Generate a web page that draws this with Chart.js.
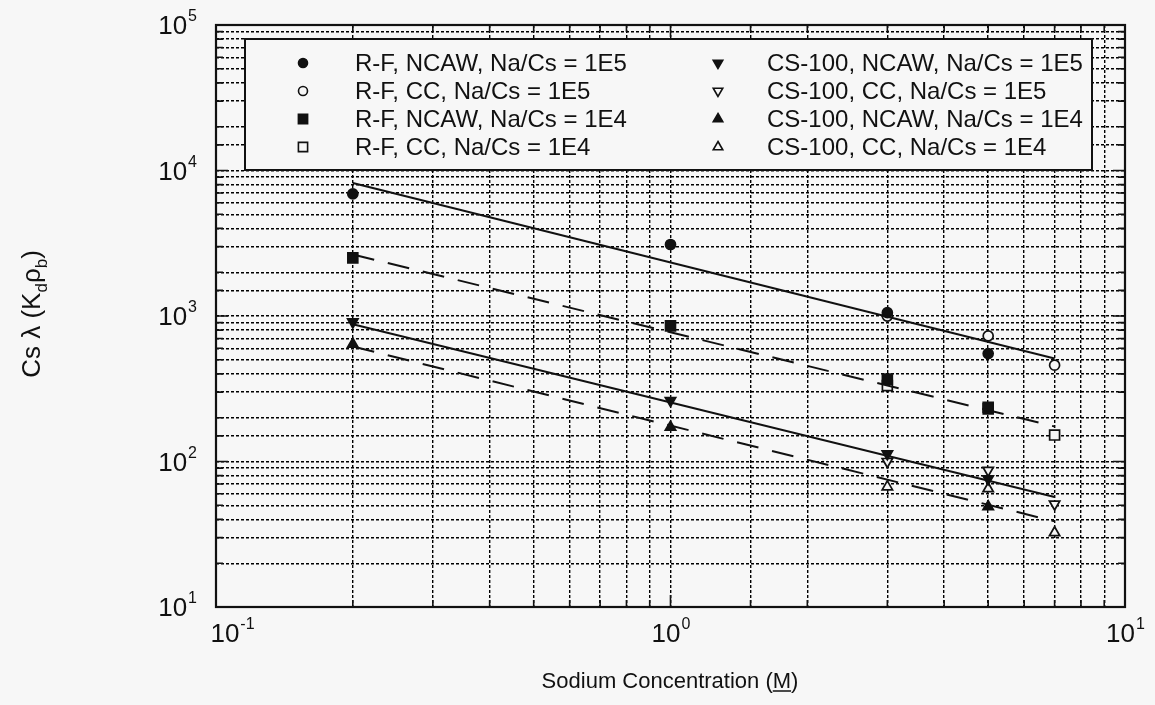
<!DOCTYPE html>
<html>
<head>
<meta charset="utf-8">
<script src="https://cdn.jsdelivr.net/npm/chart.js@4.4.1/dist/chart.umd.min.js"></script>
<style>
    html, body { margin: 0; padding: 0; background: #f7f7f7; }
    #wrap { width: 1155px; height: 705px; }
</style>
</head>
<body>
<div id="wrap"><canvas id="kdChart"></canvas></div>
<script>

// sodium concentration (M) and Cs lambda
const rfNcawE5X = [0.2, 1, 3, 5];
const rfNcawE5Y = [6900, 3100, 1054, 552];

const rfCcE5X = [3, 5, 7];
const rfCcE5Y = [998, 730, 459];

const rfNcawE4X = [0.2, 1, 3, 5];
const rfNcawE4Y = [2510, 855, 368, 236];

const rfCcE4X = [3, 5, 7];
const rfCcE4Y = [332, 230, 152];

const csNcawE5X = [0.2, 1, 3, 5];
const csNcawE5Y = [910, 262, 113, 76];

const csCcE5X = [3, 5, 7];
const csCcE5Y = [100, 87, 51];

const csNcawE4X = [0.2, 1, 5];
const csNcawE4Y = [640, 172, 49];

const csCcE4X = [3, 5, 7];
const csCcE4Y = [67, 65, 32.4];

// fitted lines (end points)
const fitX = [0.2, 7];
const fitRfE5 = [8200, 511];
const fitRfE4 = [2650, 174];
const fitCsE5 = [877, 57];
const fitCsE4 = [617, 38.8];

const xTickLabels = ['-1', '0', '1'];
const yTickLabels = ['1', '2', '3', '4', '5'];

const paperBg = '#f7f7f7';
const ink = '#111';
const fontFamily = '"Liberation Sans", Arial, Helvetica, sans-serif';


function points(xs, ys) {
    return xs.map((x, i) => ({ x: x, y: ys[i] }));
}

function markerSet(label, xs, ys, style, filled, rotation = 0) {
    const radius = style === 'circle' ? 5 : (style === 'rect' ? 7 : 6);
    return {
        label: label,
        data: points(xs, ys),
        showLine: false,
        pointStyle: style,
        pointRotation: rotation,
        pointRadius: radius,
        pointHoverRadius: radius,
        pointBorderWidth: 1.7,
        pointBorderColor: ink,
        pointBackgroundColor: filled ? ink : paperBg,
    };
}

function fitSet(ys, dashed) {
    return {
        isFit: true,
        data: points(fitX, ys),
        showLine: true,
        borderColor: ink,
        borderWidth: 2,
        borderDash: dashed ? [22, 14] : [],
        pointRadius: 0,
        pointHoverRadius: 0,
    };
}

function isDecade(v) {
    const l = Math.log10(v);
    return Math.abs(l - Math.round(l)) < 1e-6;
}

function drawPower(ctx, exp, x, y, align) {
    ctx.font = '26px ' + fontFamily;
    const wBase = ctx.measureText('10').width;
    ctx.font = '16px ' + fontFamily;
    const wExp = ctx.measureText(exp).width;
    const x0 = align === 'right' ? x - wBase - wExp - 1 : x - (wBase + wExp) / 2;
    ctx.textAlign = 'left';
    ctx.textBaseline = 'alphabetic';
    ctx.font = '26px ' + fontFamily;
    ctx.fillText('10', x0, y + 9);
    ctx.font = '16px ' + fontFamily;
    ctx.fillText(exp, x0 + wBase + 1, y - 4);
}

const paperPlugin = {
    id: 'paper',
    beforeDraw(chart) {
        const ctx = chart.ctx;
        ctx.save();
        ctx.fillStyle = paperBg;
        ctx.fillRect(0, 0, chart.width, chart.height);
        ctx.restore();
    },
    afterDatasetsDraw(chart) {
        const ctx = chart.ctx;
        const area = chart.chartArea;
        const xs = chart.scales.x;
        const ys = chart.scales.y;

        ctx.save();
        ctx.strokeStyle = ink;
        ctx.fillStyle = ink;

        // inward ticks on all four sides
        ctx.lineWidth = 1.6;
        ctx.beginPath();
        xs.ticks.forEach(t => {
            const px = xs.getPixelForValue(t.value);
            const len = isDecade(t.value) ? 12 : 7;
            ctx.moveTo(px, area.bottom);
            ctx.lineTo(px, area.bottom - len);
            ctx.moveTo(px, area.top);
            ctx.lineTo(px, area.top + len);
        });
        ys.ticks.forEach(t => {
            const py = ys.getPixelForValue(t.value);
            const len = isDecade(t.value) ? 12 : 7;
            ctx.moveTo(area.left, py);
            ctx.lineTo(area.left + len, py);
            ctx.moveTo(area.right, py);
            ctx.lineTo(area.right - len, py);
        });
        ctx.stroke();

        // frame
        ctx.lineWidth = 2.2;
        ctx.strokeRect(area.left, area.top, area.right - area.left, area.bottom - area.top);

        // tick labels (first x label nudged right, clear of the y labels)
        xTickLabels.forEach((e, i) => {
            const px = xs.getPixelForValue(Math.pow(10, Number(e)));
            drawPower(ctx, e, px + (i === 0 ? 16 : 0), 633, 'center');
        });
        yTickLabels.forEach(e => {
            const py = ys.getPixelForValue(Math.pow(10, Number(e)));
            drawPower(ctx, e, 197, py, 'right');
        });

        // x axis title with underlined M
        ctx.font = '22px ' + fontFamily;
        const head = 'Sodium Concentration (';
        const full = head + 'M)';
        const wFull = ctx.measureText(full).width;
        const tx = 670 - wFull / 2;
        ctx.textAlign = 'left';
        ctx.fillText(full, tx, 688);
        const mx = tx + ctx.measureText(head).width;
        const mw = ctx.measureText('M').width;
        ctx.lineWidth = 1.5;
        ctx.beginPath();
        ctx.moveTo(mx, 691);
        ctx.lineTo(mx + mw, 691);
        ctx.stroke();

        // y axis title: Cs λ (K_d ρ_b)
        ctx.save();
        ctx.translate(40, 314);
        ctx.rotate(-Math.PI / 2);
        const parts = [
            ['Cs \u03bb (K', 26, 0],
            ['d', 17, 7],
            ['\u03c1', 26, 0],
            ['b', 17, 7],
            [')', 26, 0],
        ];
        let total = 0;
        parts.forEach(p => {
            ctx.font = p[1] + 'px ' + fontFamily;
            total += ctx.measureText(p[0]).width;
        });
        let cx = -total / 2;
        parts.forEach(p => {
            ctx.font = p[1] + 'px ' + fontFamily;
            ctx.fillText(p[0], cx, p[2]);
            cx += ctx.measureText(p[0]).width;
        });
        ctx.restore();

        // legend box
        const box = { left: 245, top: 39, right: 1092, bottom: 170 };
        ctx.fillStyle = paperBg;
        ctx.fillRect(box.left, box.top, box.right - box.left, box.bottom - box.top);
        ctx.lineWidth = 2;
        ctx.strokeRect(box.left, box.top, box.right - box.left, box.bottom - box.top);

        const cols = [{ sym: 303, text: 355 }, { sym: 718, text: 767 }];
        const rows = [63, 91, 119, 147];
        const items = chart.data.datasets.filter(d => !d.isFit);
        items.forEach((d, i) => {
            const col = cols[Math.floor(i / 4)];
            const y = rows[i % 4];
            ctx.fillStyle = d.pointBackgroundColor;
            ctx.strokeStyle = ink;
            ctx.lineWidth = 1.6;
            Chart.helpers.drawPoint(ctx, {
                pointStyle: d.pointStyle,
                rotation: d.pointRotation,
                radius: d.pointRadius - 0.5,
                borderWidth: 1.6,
            }, col.sym, y);
            ctx.fillStyle = ink;
            ctx.font = '24px ' + fontFamily;
            ctx.textBaseline = 'middle';
            ctx.fillText(d.label, col.text, y + 1);
            ctx.textBaseline = 'alphabetic';
        });

        ctx.restore();
    }
};

new Chart(document.getElementById('kdChart'), {

    type: 'scatter',

    data: {
        datasets: [
            fitSet(fitRfE5, false),
            fitSet(fitRfE4, true),
            fitSet(fitCsE5, false),
            fitSet(fitCsE4, true),
            markerSet('R-F, NCAW, Na/Cs = 1E5', rfNcawE5X, rfNcawE5Y, 'circle', true),
            markerSet('R-F, CC, Na/Cs = 1E5', rfCcE5X, rfCcE5Y, 'circle', false),
            markerSet('R-F, NCAW, Na/Cs = 1E4', rfNcawE4X, rfNcawE4Y, 'rect', true),
            markerSet('R-F, CC, Na/Cs = 1E4', rfCcE4X, rfCcE4Y, 'rect', false),
            markerSet('CS-100, NCAW, Na/Cs = 1E5', csNcawE5X, csNcawE5Y, 'triangle', true, 180),
            markerSet('CS-100, CC, Na/Cs = 1E5', csCcE5X, csCcE5Y, 'triangle', false, 180),
            markerSet('CS-100, NCAW, Na/Cs = 1E4', csNcawE4X, csNcawE4Y, 'triangle', true),
            markerSet('CS-100, CC, Na/Cs = 1E4', csCcE4X, csCcE4Y, 'triangle', false),
        ]
    },

    options: {
        responsive: true,
        maintainAspectRatio: false,
        animation: false,
        layout: {
            padding: { left: 0, top: 25, right: 30, bottom: 0 }
        },
        plugins: {
            legend: { display: false },
            tooltip: { enabled: false },
        },
        scales: {
            x: {
                type: 'logarithmic',
                min: 0.1,
                max: 10,
                afterFit(scale) { scale.height = 98; },
                ticks: {
                    autoSkip: false,
                    maxRotation: 0,
                    callback: () => '',
                },
                grid: {
                    color: '#000',
                    lineWidth: 1.4,
                    drawTicks: false,
                },
                border: { display: false, dash: [3, 2] },
            },
            y: {
                type: 'logarithmic',
                min: 10,
                max: 100000,
                afterFit(scale) { scale.width = 216; },
                ticks: {
                    autoSkip: false,
                    callback: () => '',
                },
                grid: {
                    color: '#000',
                    lineWidth: 1.4,
                    drawTicks: false,
                },
                border: { display: false, dash: [3, 2] },
            }
        }
    },

    plugins: [paperPlugin]
});
</script>
</body>
</html>
